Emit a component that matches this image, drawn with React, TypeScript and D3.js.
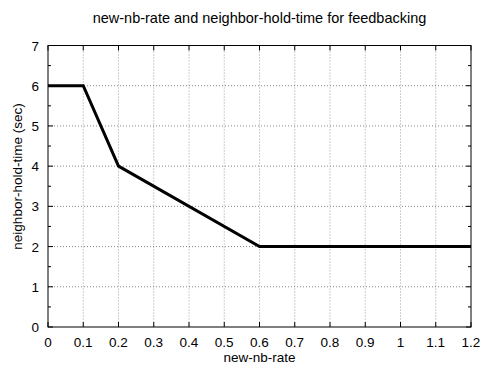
import React, { useEffect, useRef } from 'react';
import * as d3 from 'd3';

const rates = [0, 0.1, 0.2, 0.6, 1.2];
const holdTimes = [6, 6, 4, 2, 2];
const xTicks = [0, 0.1, 0.2, 0.3, 0.4, 0.5, 0.6, 0.7, 0.8, 0.9, 1, 1.1, 1.2];
const yTicks = [0, 1, 2, 3, 4, 5, 6, 7];
const yMinorTicks = [0.5, 1.5, 2.5, 3.5, 4.5, 5.5, 6.5];

export default function App() {
  const ref = useRef<SVGSVGElement>(null);

  useEffect(() => {
    const svg = d3.select(ref.current);
    svg.selectAll('*').remove();

    const margin = { top: 45.5, right: 10, bottom: 38, left: 48 };
    const width = 481 - margin.left - margin.right;
    const height = 365 - margin.top - margin.bottom;

    const x = d3.scaleLinear().domain([0, 1.2]).range([0, width]);
    const y = d3.scaleLinear().domain([0, 7]).range([height, 0]);

    const font = 'Liberation Sans, Arial, sans-serif';

    svg.append('text')
      .attr('x', margin.left + width / 2)
      .attr('y', 23)
      .attr('text-anchor', 'middle')
      .attr('font-family', font)
      .attr('font-size', 14.5)
      .text('new-nb-rate and neighbor-hold-time for feedbacking');

    const g = svg.append('g')
      .attr('transform', `translate(${margin.left},${margin.top})`);

    // grid
    g.selectAll('.vgrid')
      .data(xTicks.slice(1, -1))
      .enter().append('line')
      .attr('x1', d => x(d)).attr('x2', d => x(d))
      .attr('y1', 0).attr('y2', height)
      .attr('stroke', '#888').attr('stroke-width', 0.8)
      .attr('stroke-dasharray', '1,2');
    g.selectAll('.hgrid')
      .data(yTicks.slice(1, -1))
      .enter().append('line')
      .attr('x1', 0).attr('x2', width)
      .attr('y1', d => y(d)).attr('y2', d => y(d))
      .attr('stroke', '#666').attr('stroke-width', 0.8)
      .attr('stroke-dasharray', '1,2');

    // inward ticks on all four sides
    xTicks.forEach(d => {
      g.append('line').attr('x1', x(d)).attr('x2', x(d))
        .attr('y1', height).attr('y2', height - 5).attr('stroke', '#000');
      g.append('line').attr('x1', x(d)).attr('x2', x(d))
        .attr('y1', 0).attr('y2', 5).attr('stroke', '#000');
    });
    yTicks.forEach(d => {
      g.append('line').attr('x1', 0).attr('x2', 5)
        .attr('y1', y(d)).attr('y2', y(d)).attr('stroke', '#000');
      g.append('line').attr('x1', width).attr('x2', width - 5)
        .attr('y1', y(d)).attr('y2', y(d)).attr('stroke', '#000');
    });
    yMinorTicks.forEach(d => {
      g.append('line').attr('x1', 0).attr('x2', 3)
        .attr('y1', y(d)).attr('y2', y(d)).attr('stroke', '#000');
      g.append('line').attr('x1', width).attr('x2', width - 3)
        .attr('y1', y(d)).attr('y2', y(d)).attr('stroke', '#000');
    });

    g.append('rect')
      .attr('width', width).attr('height', height)
      .attr('fill', 'none').attr('stroke', '#000').attr('stroke-width', 1);

    // tick labels
    g.selectAll('.xl')
      .data(xTicks)
      .enter().append('text')
      .attr('x', d => x(d))
      .attr('y', height + 20)
      .attr('text-anchor', 'middle')
      .attr('font-family', font)
      .attr('font-size', 13.5)
      .text(d => String(d));
    g.selectAll('.yl')
      .data(yTicks)
      .enter().append('text')
      .attr('x', -9)
      .attr('y', d => y(d) + 5)
      .attr('text-anchor', 'end')
      .attr('font-family', font)
      .attr('font-size', 13.5)
      .text(d => String(d));

    svg.append('text')
      .attr('x', margin.left + width / 2)
      .attr('y', 362)
      .attr('text-anchor', 'middle')
      .attr('font-family', font)
      .attr('font-size', 13.5)
      .text('new-nb-rate');

    svg.append('text')
      .attr('transform', `translate(22,176.5) rotate(-90)`)
      .attr('text-anchor', 'middle')
      .attr('font-family', font)
      .attr('font-size', 13.5)
      .text('neighbor-hold-time (sec)');

    const line = d3.line<number>()
      .x((d, i) => x(rates[i]))
      .y(d => y(d));

    g.append('path')
      .datum(holdTimes)
      .attr('d', line)
      .attr('fill', 'none')
      .attr('stroke', '#000')
      .attr('stroke-width', 3);
  }, []);

  return (
    <svg ref={ref} width={481} height={365}
      style={{ position: 'absolute', left: 0, top: 0, background: '#fff' }} />
  );
}
